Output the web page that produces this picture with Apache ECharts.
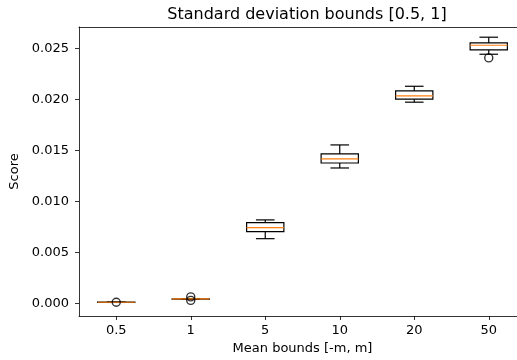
<!DOCTYPE html>
<html><head><meta charset="utf-8">
<script src="https://cdn.jsdelivr.net/npm/echarts@6/dist/echarts.min.js"></script>
<style>html,body{margin:0;padding:0;background:#fff}#c{width:517px;height:360px}</style>
</head><body><div id="c"></div>
<script>
const categories = ['0.5', '1', '5', '10', '20', '50'];
const lowerWhisker = [0.00010, 0.00042, 0.00635, 0.01328, 0.01973, 0.02443];
const q1 = [0.00011, 0.00043, 0.00704, 0.01377, 0.02002, 0.02485];
const median = [0.00012, 0.00044, 0.00743, 0.01417, 0.02034, 0.02531];
const q3 = [0.00013, 0.00046, 0.00792, 0.01466, 0.02083, 0.02554];
const upperWhisker = [0.00014, 0.00047, 0.00819, 0.01554, 0.02129, 0.02610];
const outliers = [[0, 0.00012], [1, 0.00064], [1, 0.00030], [5, 0.02407]];
const yTicks = [0, 0.005, 0.010, 0.015, 0.020, 0.025];
const xTicks = [0, 1, 2, 3, 4, 5];

const boxData = categories.map((c, i) => [i, lowerWhisker[i], q1[i], median[i], q3[i], upperWhisker[i]]);
const font = 'DejaVu Sans';
const chart = echarts.init(document.getElementById('c'));
chart.setOption({
  animation: false,
  title: { text: 'Standard deviation bounds [0.5, 1]', left: 302, top: 2, textAlign: 'center',
    textStyle: { fontFamily: font, fontSize: 16, fontWeight: 'normal', color: '#000' } },
  grid: { left: 79, top: 27, width: 447, height: 289, outerBoundsMode: 'none', containLabel: false },
  xAxis: [{
    type: 'value', min: -0.5, max: 5.5,
    name: 'Mean bounds [-m, m]', nameLocation: 'middle', nameGap: 25,
    nameTextStyle: { fontFamily: font, fontSize: 13, color: '#000', padding: [0, 0, 0, 0] },
    axisLine: { onZero: false, lineStyle: { color: '#000', width: 0.8 } },
    axisTick: { length: 4, customValues: xTicks, lineStyle: { color: '#000', width: 0.8 } },
    axisLabel: { fontFamily: font, fontSize: 13, color: '#000', margin: 8, customValues: xTicks,
      formatter: v => categories[Math.round(v)] },
    splitLine: { show: false }
  }, {
    type: 'value', min: -0.5, max: 5.5, position: 'top',
    axisLine: { show: true, onZero: false, lineStyle: { color: '#000', width: 0.8 } },
    axisTick: { show: false }, axisLabel: { show: false }, splitLine: { show: false }
  }],
  yAxis: {
    type: 'value', min: -0.00123, max: 0.0271,
    name: 'Score', nameLocation: 'middle', nameGap: 51, nameRotate: 90,
    nameTextStyle: { fontFamily: font, fontSize: 13, color: '#000' },
    axisLine: { show: true, onZero: false, lineStyle: { color: '#000', width: 0.8 } },
    axisTick: { show: true, length: 4, customValues: yTicks, lineStyle: { color: '#000', width: 0.8 } },
    axisLabel: { fontFamily: font, fontSize: 13, color: '#000', margin: 10, customValues: yTicks,
      formatter: v => v.toFixed(3) },
    splitLine: { show: false }
  },
  series: [{
    type: 'custom',
    data: boxData,
    encode: { x: 0, y: [1, 2, 3, 4, 5] },
    renderItem: function (params, api) {
      const i = api.value(0);
      const band = api.size([1, 0])[0];
      const hw = band * 0.25, cw = band * 0.125;
      const pLo = api.coord([i, api.value(1)]);
      const pQ1 = api.coord([i, api.value(2)]);
      const pMed = api.coord([i, api.value(3)]);
      const pQ3 = api.coord([i, api.value(4)]);
      const pHi = api.coord([i, api.value(5)]);
      const x = pLo[0];
      const ls = { stroke: '#000', lineWidth: 1.2, fill: null };
      return { type: 'group', children: [
        { type: 'line', shape: { x1: x, y1: pLo[1], x2: x, y2: pQ1[1] }, style: ls },
        { type: 'line', shape: { x1: x, y1: pQ3[1], x2: x, y2: pHi[1] }, style: ls },
        { type: 'line', shape: { x1: x - cw, y1: pLo[1], x2: x + cw, y2: pLo[1] }, style: ls },
        { type: 'line', shape: { x1: x - cw, y1: pHi[1], x2: x + cw, y2: pHi[1] }, style: ls },
        { type: 'rect', shape: { x: x - hw, y: pQ3[1], width: hw * 2, height: pQ1[1] - pQ3[1] },
          style: { stroke: '#000', lineWidth: 1.2, fill: 'rgba(0,0,0,0)' } },
        { type: 'line', shape: { x1: x - hw, y1: pMed[1], x2: x + hw, y2: pMed[1] },
          style: { stroke: '#ff7f0e', lineWidth: 1.2 } }
      ]};
    }
  }, {
    type: 'scatter', data: outliers, symbol: 'circle', symbolSize: 8,
    itemStyle: { color: 'rgba(0,0,0,0)', borderColor: '#000', borderWidth: 1.4 },
    z: 3
  }]
});
</script></body></html>
